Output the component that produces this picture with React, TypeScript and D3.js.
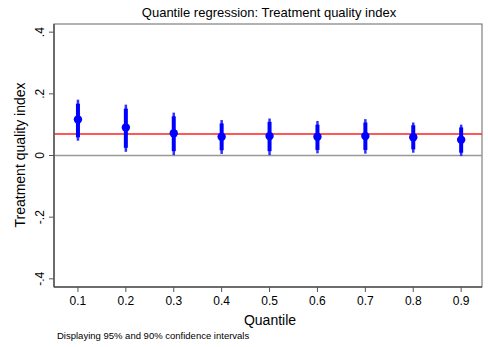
import React from "react";
import * as d3 from "d3";

// Quantile regression estimates with 95% and 90% confidence intervals
const quantiles = [0.1, 0.2, 0.3, 0.4, 0.5, 0.6, 0.7, 0.8, 0.9];
const estimates = [0.117, 0.091, 0.072, 0.061, 0.063, 0.061, 0.063, 0.059, 0.051];
const ci95Low = [0.048, 0.012, 0.001, 0.005, 0.001, 0.007, 0.006, 0.009, -0.002];
const ci95High = [0.181, 0.165, 0.139, 0.115, 0.12, 0.112, 0.118, 0.107, 0.1];
const ci90Low = [0.059, 0.025, 0.014, 0.017, 0.014, 0.018, 0.018, 0.02, 0.009];
const ci90High = [0.168, 0.152, 0.127, 0.104, 0.109, 0.1, 0.107, 0.098, 0.091];
const olsEstimate = 0.07;
const yTicks = [0.4, 0.2, 0, -0.2, -0.4];
const yTickLabels = [".4", ".2", "0", "-.2", "-.4"];
const xTickLabels = ["0.1", "0.2", "0.3", "0.4", "0.5", "0.6", "0.7", "0.8", "0.9"];

const W = 488;
const H = 347;
const left = 54;
const right = 482;
const top = 24;
const bottom = 287;
const font = "'Liberation Sans', Arial, Helvetica, sans-serif";

export default function App() {
  const x = d3.scaleLinear().domain([0.05, 0.9435]).range([left, right]);
  const y = d3.scaleLinear().domain([-0.4265, 0.4265]).range([bottom, top]);

  return (
    <svg
      width={W}
      height={H}
      style={{ position: "absolute", left: 0, top: 0, background: "#fff" }}
      fontFamily={font}
    >
      <rect x={0} y={0} width={W} height={H} fill="#fff" />
      <text x={269} y={17} textAnchor="middle" fontSize={13} fill="#000">
        Quantile regression: Treatment quality index
      </text>

      {/* plot frame */}
      <rect x={left} y={top} width={right - left} height={bottom - top} fill="none" stroke="#666" strokeWidth={1} />

      {/* zero reference line */}
      <line x1={left} x2={right} y1={y(0)} y2={y(0)} stroke="#999" strokeWidth={1.5} />
      {/* OLS estimate */}
      <line x1={left} x2={right} y1={y(olsEstimate)} y2={y(olsEstimate)} stroke="#ff2020" strokeWidth={1.5} />

      {/* y axis */}
      <line x1={left} x2={left} y1={top} y2={bottom} stroke="#555" strokeWidth={1.5} />
      {yTicks.map((t, i) => (
        <g key={"y" + i}>
          <line x1={left - 5} x2={left} y1={y(t)} y2={y(t)} stroke="#555" strokeWidth={1} />
          <text
            transform={`translate(${left - 10},${y(t)}) rotate(-90)`}
            textAnchor="middle"
            fontSize={12}
            fill="#000"
          >
            {yTickLabels[i]}
          </text>
        </g>
      ))}
      <text
        transform={`translate(25,155) rotate(-90)`}
        textAnchor="middle"
        fontSize={14}
        fill="#000"
      >
        Treatment quality index
      </text>

      {/* x axis */}
      <line x1={left} x2={right} y1={bottom} y2={bottom} stroke="#555" strokeWidth={1.5} />
      {quantiles.map((q, i) => (
        <g key={"x" + i}>
          <line x1={x(q)} x2={x(q)} y1={bottom} y2={bottom + 5} stroke="#555" strokeWidth={1} />
          <text x={x(q)} y={bottom + 18} textAnchor="middle" fontSize={12} fill="#000">
            {xTickLabels[i]}
          </text>
        </g>
      ))}
      <text x={270} y={325} textAnchor="middle" fontSize={14} fill="#000">
        Quantile
      </text>
      <text x={57} y={339} fontSize={9.5} fill="#000">
        Displaying 95% and 90% confidence intervals
      </text>

      {/* estimates with confidence intervals */}
      {quantiles.map((q, i) => (
        <g key={"p" + i}>
          <line x1={x(q)} x2={x(q)} y1={y(ci95Low[i])} y2={y(ci95High[i])} stroke="#3333ff" strokeWidth={2.5} />
          <line x1={x(q)} x2={x(q)} y1={y(ci90Low[i])} y2={y(ci90High[i])} stroke="#0000ff" strokeWidth={4} />
          <circle cx={x(q)} cy={y(estimates[i])} r={4.2} fill="#0000ff" />
        </g>
      ))}
    </svg>
  );
}
